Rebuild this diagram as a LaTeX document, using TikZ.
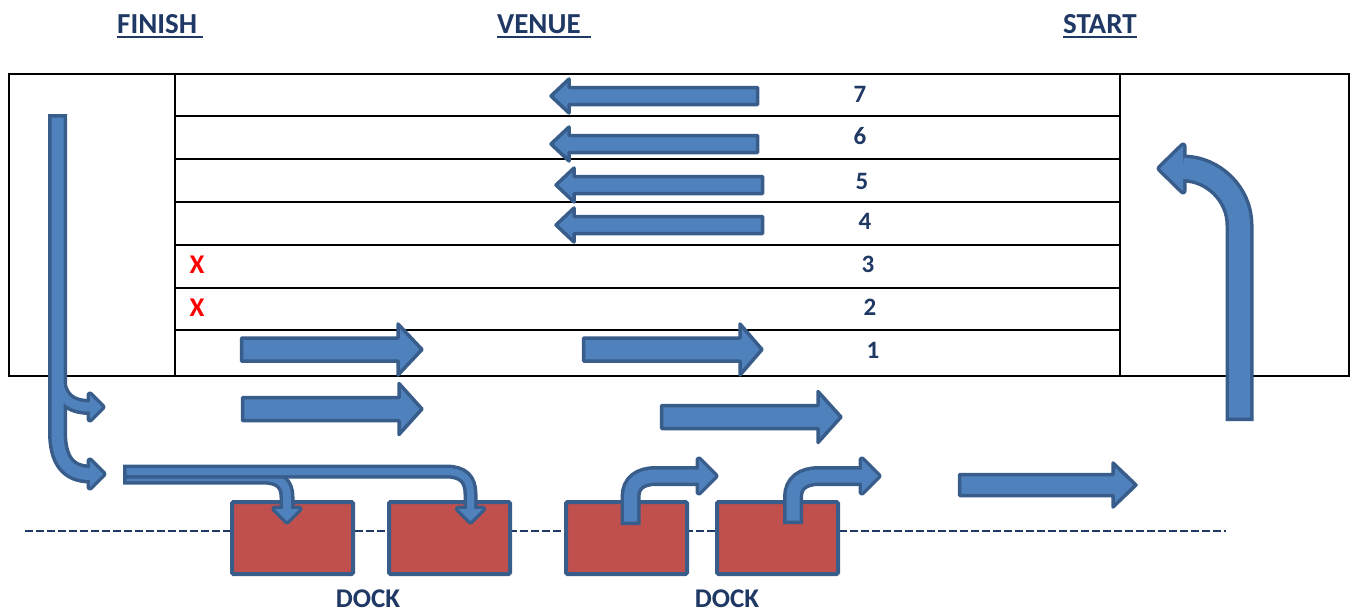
\documentclass[tikz,border=0pt]{standalone}
\usepackage{fontspec}
\setsansfont{Carlito}
\usepackage{tikz}
\definecolor{arrowblue}{HTML}{4F81BD}
\definecolor{edgeblue}{HTML}{385D8A}
\definecolor{dockred}{HTML}{C0504D}
\definecolor{navy}{HTML}{1F3864}
\definecolor{markred}{HTML}{FF0000}
\tikzset{
  heading/.style={inner sep=0pt, anchor=base west, text=navy, font=\sffamily\bfseries\fontsize{29}{31}\selectfont},
  headrule/.style={draw=navy, line width=2pt},
  lanenum/.style={text=navy, font=\sffamily\bfseries\fontsize{25}{27}\selectfont},
  closed/.style={text=markred, font=\sffamily\bfseries\fontsize{27}{29}\selectfont},
  docklabel/.style={text=navy, font=\sffamily\bfseries\fontsize{27}{29}\selectfont},
  laneline/.style={line width=2.2pt},
  dockline/.style={draw=navy, line width=2.5pt, dash pattern=on 7.5pt off 3.5pt},
  dockbox/.style={fill=dockred, draw=edgeblue, line width=4pt, rounded corners=1.5pt,
    minimum width=121pt, minimum height=72pt, inner sep=0pt},
  blockarrow/.style={fill=arrowblue, draw=edgeblue, line width=3.5pt, line join=round},
  rim/.style={draw=edgeblue, line width=#1},
  core/.style={draw=arrowblue, line width=#1},
  headrim/.style={fill=arrowblue, draw=edgeblue, line width=7pt, line join=round},
}
% tail x, head base x, tip x, y, half shaft, half head
\newcommand\blockarrow[6]{%
  \draw[blockarrow] (#1,{#4-#5}) -- (#2,{#4-#5}) -- (#2,{#4-#6}) -- (#3,#4)
    -- (#2,{#4+#6}) -- (#2,{#4+#5}) -- (#1,{#4+#5}) -- cycle;}

\begin{document}
\begin{tikzpicture}[x=1pt,y=-1pt]
  \useasboundingbox (0,0) rectangle (1354,613);

  \path
  (117,33) node[heading](finish) {FINISH}
  (497,33) node[heading](venue) {VENUE}
  (1063,33) node[heading](start) {START}
  ;
  \draw[headrule] ([yshift=-4pt]finish.base west) -- ([xshift=6pt,yshift=-4pt]finish.base east);
  \draw[headrule] ([yshift=-4pt]venue.base west) -- ([xshift=10pt,yshift=-4pt]venue.base east);
  \draw[headrule] ([yshift=-4pt]start.base west) -- ([yshift=-4pt]start.base east);

  % lanes
  \draw[laneline] (9,74) rectangle (1349,376)
  (175,74) -- (175,376)
  (1120,74) -- (1120,376);
  \draw[laneline] (175,116) -- (1120,116) (175,159) -- (1120,159)
  (175,202) -- (1120,202) (175,245) -- (1120,245)
  (175,288) -- (1120,288) (175,330) -- (1120,330);

  \path
  (860,94) node[lanenum](lane7) {7}
  (860,136) node[lanenum](lane6) {6}
  (862,181) node[lanenum](lane5) {5}
  (865,221) node[lanenum](lane4) {4}
  (868,264) node[lanenum](lane3) {3}
  (870,307) node[lanenum](lane2) {2}
  (873,350) node[lanenum](lane1) {1}
  (197,265) node[closed](shut3) {X}
  (197,308) node[closed](shut2) {X}
  ;

  % dock
  \draw[dockline] (25,531) -- (1226,531);
  \path
  (292.5,538) node[dockbox](dockA) {}
  (449.5,538) node[dockbox](dockB) {}
  (626.5,538) node[dockbox](dockC) {}
  (777.5,538) node[dockbox](dockD) {}
  (368,599) node[docklabel](dockin) {DOCK}
  (727,599) node[docklabel](dockout) {DOCK}
  ;

  % straight arrows
  \blockarrow{757.5}{569}{551}{96}{8.5}{17}
  \blockarrow{757.5}{569}{551}{144}{8.5}{17}
  \blockarrow{762.5}{574}{556}{185}{8.5}{17}
  \blockarrow{762.5}{574}{556}{225}{8.5}{17}
  \blockarrow{241.5}{398}{422}{349.5}{11.5}{25.5}
  \blockarrow{583.5}{740}{762}{349.5}{11.5}{25.5}
  \blockarrow{242.5}{399}{422}{409}{11.5}{25.5}
  \blockarrow{661.5}{818}{841}{417}{11.5}{25.5}
  \blockarrow{959.5}{1113}{1136}{485}{10.5}{22}

  % finish
  \draw[rim=19pt] (57.5,114) -- (57.5,432) .. controls (57.5,460) and (68,474) .. (90,474);
  \draw[rim=16pt] (57.5,372) .. controls (57.5,398) and (70,407) .. (90,407);
  \draw[headrim] (90,461) -- (103,474) -- (90,487) -- cycle;
  \draw[headrim] (90,395) -- (102,407) -- (90,419) -- cycle;
  \draw[core=12pt, shorten <=3.5pt] (57.5,114) -- (57.5,432) .. controls (57.5,460) and (68,474) .. (90,474);
  \draw[core=9pt] (57.5,372) .. controls (57.5,398) and (70,407) .. (90,407);
  \fill[arrowblue] (90,461) -- (103,474) -- (90,487) -- cycle;
  \fill[arrowblue] (90,395) -- (102,407) -- (90,419) -- cycle;

  % into the dock
  \draw[rim=15pt] (123,477) -- (263,477) .. controls (280,477) and (287,484) .. (287,497) -- (287,509);
  \draw[headrim] (275,509) -- (299,509) -- (287,521) -- cycle;
  \draw[core=8pt, shorten <=3.5pt] (123,477) -- (263,477) .. controls (280,477) and (287,484) .. (287,497) -- (287,509);
  \fill[arrowblue] (275,509) -- (299,509) -- (287,521) -- cycle;

  \draw[rim=14pt] (123,471.5) -- (446,471.5) .. controls (463,471.5) and (470.5,479) .. (470.5,494) -- (470.5,509);
  \draw[headrim] (458.5,509) -- (482.5,509) -- (470.5,521) -- cycle;
  \draw[core=7pt, shorten <=3.5pt] (123,471.5) -- (446,471.5) .. controls (463,471.5) and (470.5,479) .. (470.5,494) -- (470.5,509);
  \fill[arrowblue] (458.5,509) -- (482.5,509) -- (470.5,521) -- cycle;

  % out of the dock
  \draw[rim=20pt] (630.5,525) -- (630.5,497) .. controls (630.5,483) and (640,476) .. (656,476) -- (699,476);
  \draw[headrim] (699,460) -- (715,476) -- (699,492) -- cycle;
  \draw[core=13pt, shorten <=3.5pt] (630.5,525) -- (630.5,497) .. controls (630.5,483) and (640,476) .. (656,476) -- (699,476);
  \fill[arrowblue] (699,460) -- (715,476) -- (699,492) -- cycle;

  \draw[rim=20pt] (793,524) -- (793,497) .. controls (793,483) and (803,476) .. (819,476) -- (862,476);
  \draw[headrim] (862,460) -- (878,476) -- (862,492) -- cycle;
  \draw[core=13pt, shorten <=3.5pt] (793,524) -- (793,497) .. controls (793,483) and (803,476) .. (819,476) -- (862,476);
  \fill[arrowblue] (862,460) -- (878,476) -- (862,492) -- cycle;

  % start
  \draw[rim=28pt] (1239.5,421) -- (1239.5,225) .. controls (1239.5,194) and (1213,168.5) .. (1183,168.5);
  \draw[headrim] (1183,146) -- (1160,168.5) -- (1183,191) -- cycle;
  \draw[core=21pt, shorten <=3.5pt] (1239.5,421) -- (1239.5,225) .. controls (1239.5,194) and (1213,168.5) .. (1183,168.5);
  \fill[arrowblue] (1183,146) -- (1160,168.5) -- (1183,191) -- cycle;
\end{tikzpicture}
\end{document}
